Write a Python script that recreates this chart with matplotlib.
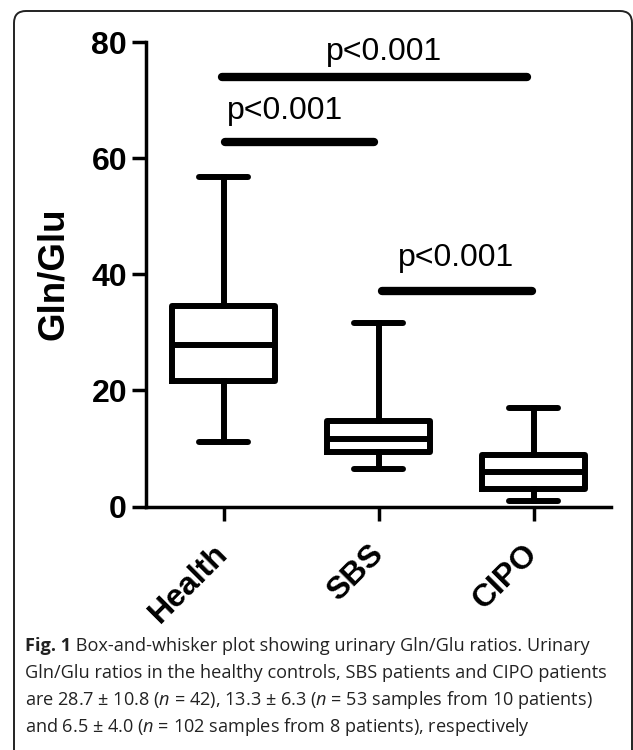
import matplotlib
matplotlib.use('Agg')
import matplotlib.pyplot as plt
from matplotlib.patches import FancyBboxPatch
from matplotlib.transforms import IdentityTransform

# ---------------- data ----------------
categories = ['Health', 'SBS', 'CIPO']
whisker_low = [11.1, 6.4, 0.9]
q1 = [21.7, 9.4, 3.05]
median = [27.9, 11.6, 6.0]
q3 = [34.5, 14.8, 8.8]
whisker_high = [56.7, 31.7, 16.9]

y_ticks = [0, 20, 40, 60, 80]
y_label = 'Gln/Glu'

sig_x_start = [-0.01, 0.01, 1.02]
sig_x_end = [1.96, 0.97, 1.99]
sig_y = [74.1, 62.9, 37.2]
sig_text_x = [1.035, 0.40, 1.50]
sig_text_y = [77.0, 66.8, 41.4]
sig_labels = ['p<0.001', 'p<0.001', 'p<0.001']

caption_title = "Fig. 1"
caption_lines = [
    " Box-and-whisker plot showing urinary Gln/Glu ratios. Urinary",
    "Gln/Glu ratios in the healthy controls, SBS patients and CIPO patients",
    r"are 28.7 ± 10.8 ($\mathit{n}$ = 42), 13.3 ± 6.3 ($\mathit{n}$ = 53 samples from 10 patients)",
    r"and 6.5 ± 4.0 ($\mathit{n}$ = 102 samples from 8 patients), respectively",
]

# ---------------- style ----------------
plt.rcParams['font.family'] = ['Liberation Sans', 'DejaVu Sans']
plt.rcParams['mathtext.fontset'] = 'custom'
plt.rcParams['mathtext.rm'] = 'Open Sans'
plt.rcParams['mathtext.it'] = 'Open Sans:italic'
plt.rcParams['mathtext.bf'] = 'Open Sans:bold'

W, H = 633, 750
fig = plt.figure(figsize=(W / 100, H / 100), dpi=100)
fig.patch.set_facecolor('white')

ax = fig.add_axes([146 / W, 1 - 506.5 / H, (611 - 146) / W, (506.5 - 42.3) / H])

stats = []
for i, name in enumerate(categories):
    stats.append(dict(label=name, whislo=whisker_low[i], q1=q1[i], med=median[i],
                      q3=q3[i], whishi=whisker_high[i], fliers=[]))

LW = 4.3
positions = list(range(len(categories)))
ax.bxp(stats, positions=positions, widths=0.66, capwidths=0.32, showfliers=False,
       boxprops=dict(color='black', linewidth=LW, solid_joinstyle='round'),
       whiskerprops=dict(color='black', linewidth=LW),
       capprops=dict(color='black', linewidth=LW, solid_capstyle='round'),
       medianprops=dict(color='black', linewidth=LW))

for xs, xe, y, tx, ty, lab in zip(sig_x_start, sig_x_end, sig_y, sig_text_x, sig_text_y, sig_labels):
    ax.plot([xs, xe], [y, y], color='black', linewidth=6, solid_capstyle='round',
            clip_on=False)
    ax.text(tx, ty, lab, ha='center', va='baseline', fontsize=23, color='black')

ax.set_xlim(-0.5, 2.5)
ax.set_ylim(0, 80)
ax.set_yticks(y_ticks)
ax.set_yticklabels([str(t) for t in y_ticks], fontsize=23, fontweight='bold')
ax.set_xticks(positions)
ax.set_xticklabels(categories, rotation=45, ha='right', va='center',
                   rotation_mode='anchor', fontsize=23, fontweight='bold')

for s in ['top', 'right']:
    ax.spines[s].set_visible(False)
for s in ['left', 'bottom']:
    ax.spines[s].set_linewidth(2.5)
ax.tick_params(axis='y', length=10, width=2.5, pad=3.6)
ax.tick_params(axis='x', length=10, width=2.5, pad=21)

fig.text(53.5 / W, 1 - 273.5 / H, y_label, rotation=90, ha='center', va='center',
         fontsize=26.5, fontweight='bold')

# caption
CAP_FS = 13.1
CAP_COL = '#222222'
baselines = [651, 678, 705, 732]
t_title = fig.text(25 / W, 1 - baselines[0] / H, caption_title, ha='left', va='baseline',
                   fontsize=CAP_FS, family='Open Sans', fontweight='bold', color=CAP_COL)
fig.canvas.draw()
bb = t_title.get_window_extent()
fig.text(bb.x1 / W, 1 - baselines[0] / H, caption_lines[0], ha='left', va='baseline',
         fontsize=CAP_FS, family='Open Sans', color=CAP_COL)
for line, b in zip(caption_lines[1:], baselines[1:]):
    fig.text(25 / W, 1 - b / H, line, ha='left', va='baseline', fontsize=CAP_FS,
             family='Open Sans', color=CAP_COL)

# border
border = FancyBboxPatch((14, -40), 632 - 14, H - 11 + 40,
                        boxstyle='round,pad=0,rounding_size=12',
                        transform=IdentityTransform(), fill=False,
                        edgecolor='#222222', linewidth=1.4)
fig.add_artist(border)

fig.savefig('out.png', dpi=100)
